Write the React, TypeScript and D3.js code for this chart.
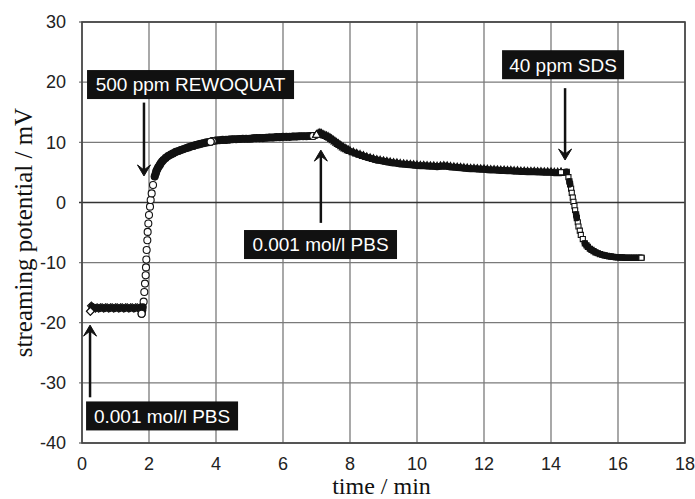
import React from 'react';
import * as d3 from 'd3';

// [time / min, streaming potential / mV]
const pbsStart: [number, number][] = [
  [0.25, -18.1], [0.28, -17.2], [0.3, -17.8], [0.35, -17.5], [0.4, -17.6], [0.45, -17.5],
  [0.5, -17.6], [0.55, -17.5], [0.6, -17.5], [0.65, -17.6], [0.7, -17.5], [0.75, -17.5],
  [0.8, -17.6], [0.85, -17.5], [0.9, -17.5], [0.95, -17.6], [1.0, -17.5], [1.05, -17.5],
  [1.1, -17.6], [1.15, -17.5], [1.2, -17.5], [1.25, -17.6], [1.3, -17.5], [1.35, -17.5],
  [1.4, -17.6], [1.45, -17.5], [1.5, -17.5], [1.55, -17.6], [1.6, -17.5], [1.65, -17.5],
  [1.7, -17.6], [1.75, -17.4], [1.78, -18.0],
];

const rewoquatPlateau: [number, number][] = [
  [3.9, 10.2], [4.0, 10.3], [4.1, 10.35], [4.2, 10.4], [4.3, 10.4], [4.4, 10.45], [4.5, 10.5],
  [4.6, 10.5], [4.7, 10.55], [4.8, 10.6], [4.9, 10.6], [5.0, 10.6], [5.1, 10.65], [5.2, 10.7],
  [5.3, 10.7], [5.4, 10.7], [5.5, 10.75], [5.6, 10.8], [5.7, 10.8], [5.8, 10.85], [5.9, 10.85],
  [6.0, 10.9], [6.1, 10.9], [6.2, 10.9], [6.3, 10.95], [6.4, 10.95], [6.5, 11.0], [6.6, 11.0],
  [6.7, 11.0], [6.8, 11.05], [6.9, 11.05],
];

const rewoquatRise: [number, number][] = [
  [1.78, -18.5], [1.8, -17.9], [1.81, -17.4], [1.84, -16.5], [1.86, -14.9], [1.88, -13.5],
  [1.9, -12.1], [1.91, -10.8], [1.92, -9.5], [1.93, -7.9], [1.95, -6.3], [1.96, -4.9],
  [1.98, -3.5], [2.0, -2.1], [2.03, -0.7], [2.05, 0.4], [2.08, 1.5], [2.12, 2.9], [2.17, 4.3],
  [2.2, 4.8], [2.22, 5.2], [2.25, 5.55], [2.28, 5.9], [2.32, 6.2], [2.35, 6.5], [2.39, 6.8],
  [2.43, 7.05], [2.5, 7.4], [2.57, 7.7], [2.65, 7.95], [2.72, 8.15], [2.8, 8.4], [2.88, 8.55],
  [2.95, 8.7], [3.02, 8.85], [3.1, 9.0], [3.18, 9.15], [3.25, 9.3], [3.33, 9.4], [3.4, 9.55],
  [3.48, 9.65], [3.55, 9.75], [3.62, 9.85], [3.7, 9.95], [3.77, 10.0], [3.84, 10.1],
];

const pbsRinse: [number, number][] = [
  [7.0, 11.2], [7.05, 11.4], [7.1, 11.5], [7.15, 11.4], [7.2, 11.2], [7.25, 11.1], [7.3, 11.0],
  [7.35, 10.85], [7.4, 10.7], [7.45, 10.5], [7.5, 10.3], [7.55, 10.1], [7.6, 9.9], [7.65, 9.7],
  [7.7, 9.5], [7.75, 9.3], [7.8, 9.1], [7.85, 8.95], [7.9, 8.8], [7.95, 8.65], [8.0, 8.5],
  [8.1, 8.3], [8.2, 8.1], [8.3, 7.9], [8.4, 7.7], [8.5, 7.5], [8.6, 7.35], [8.7, 7.2],
  [8.8, 7.05], [8.9, 6.95], [9.0, 6.85], [9.1, 6.75], [9.2, 6.65], [9.3, 6.55], [9.4, 6.5],
  [9.5, 6.4], [9.6, 6.35], [9.7, 6.3], [9.8, 6.25], [9.9, 6.2], [10.0, 6.15], [10.1, 6.1],
  [10.2, 6.1], [10.3, 6.05], [10.4, 6.0], [10.5, 6.0], [10.6, 5.95], [10.7, 6.0], [10.8, 6.05],
  [10.9, 6.0], [11.0, 5.9], [11.1, 5.85], [11.2, 5.8], [11.3, 5.75], [11.4, 5.7], [11.5, 5.65],
  [11.6, 5.6], [11.7, 5.6], [11.8, 5.55], [11.9, 5.5], [12.0, 5.5], [12.1, 5.45], [12.2, 5.4],
  [12.3, 5.4], [12.4, 5.35], [12.5, 5.3], [12.6, 5.3], [12.7, 5.25], [12.8, 5.25], [12.9, 5.2],
  [13.0, 5.2], [13.1, 5.15], [13.2, 5.15], [13.3, 5.1], [13.4, 5.1], [13.5, 5.1], [13.6, 5.05],
  [13.7, 5.05], [13.8, 5.0], [13.9, 5.0], [14.0, 5.0], [14.1, 4.95], [14.2, 4.95], [14.3, 4.95],
];

const sdsDrop: [number, number][] = [
  [14.3, 5.0], [14.38, 5.0], [14.47, 5.1], [14.52, 4.2], [14.55, 3.5], [14.57, 3.0], [14.6, 2.3],
  [14.62, 1.6], [14.65, 0.8], [14.67, 0.1], [14.7, -0.6], [14.72, -1.3], [14.75, -2.0],
  [14.77, -2.6], [14.8, -3.3], [14.82, -4.0], [14.86, -4.7], [14.89, -5.4], [14.95, -6.1],
  [15.01, -6.8], [15.06, -7.15], [15.1, -7.4], [15.16, -7.7], [15.21, -7.9], [15.27, -8.1],
  [15.33, -8.3], [15.4, -8.45], [15.46, -8.6], [15.53, -8.7], [15.6, -8.8], [15.67, -8.9],
  [15.73, -8.95], [15.8, -9.0], [15.86, -9.05], [15.93, -9.1], [16.0, -9.1], [16.07, -9.15],
  [16.13, -9.15], [16.2, -9.2], [16.26, -9.2], [16.33, -9.2], [16.4, -9.2], [16.47, -9.2],
  [16.55, -9.2], [16.62, -9.2], [16.7, -9.2],
];

const xTicks = [0, 2, 4, 6, 8, 10, 12, 14, 16, 18];
const yTicks = [-40, -30, -20, -10, 0, 10, 20, 30];

// label boxes and arrows, in data coordinates
const notes = [
  { text: '500 ppm REWOQUAT', bx: 3.24, by: 19.6, bw: 207, ax: 1.85, from: 16.6, to: 4.4 },
  { text: '0.001 mol/l PBS', bx: 2.39, by: -35.5, bw: 152, ax: 0.24, from: -32.4, to: -20.4 },
  { text: '0.001 mol/l PBS', bx: 7.12, by: -7.0, bw: 153, ax: 7.13, from: -3.4, to: 8.7 },
  { text: '40 ppm SDS', bx: 14.36, by: 22.9, bw: 122, ax: 14.42, from: 19.0, to: 7.05 },
];

const W = 695;
const H = 499;
const margin = { top: 22, right: 10, bottom: 56, left: 82 };

export default function App() {
  const x = d3.scaleLinear().domain([0, 18]).range([margin.left, W - margin.right]);
  const y = d3.scaleLinear().domain([-40, 30]).range([H - margin.bottom, margin.top]);

  const diamond = d3.symbol(d3.symbolSquare, 30)()!;
  const triangle = d3.symbol(d3.symbolTriangle, 26)()!;
  const square = d3.symbol(d3.symbolSquare, 26)()!;
  const font = "'Liberation Sans', Arial, sans-serif";
  const serif = "'Liberation Serif', 'Times New Roman', serif";
  const line = d3.line<[number, number]>().x(d => x(d[0])).y(d => y(d[1]));

  const mark = { fill: '#fff', stroke: '#111', strokeWidth: 1.1 };

  // solid band where the recorded points sit closer than a few pixels
  const band = (data: [number, number][]) => {
    let d = '';
    for (let i = 1; i < data.length; i++) {
      const dx = x(data[i][0]) - x(data[i - 1][0]);
      const dy = y(data[i][1]) - y(data[i - 1][1]);
      if (Math.hypot(dx, dy) < 4) d += line([data[i - 1], data[i]]);
    }
    return d;
  };

  const series = [
    { data: pbsStart, width: 6, draw: (d: [number, number], k: string) => (
      <path key={k} d={diamond} transform={`translate(${x(d[0])},${y(d[1])}) rotate(45)`} {...mark} />) },
    { data: rewoquatPlateau, width: 7.5, draw: (d: [number, number], k: string) => (
      <circle key={k} cx={x(d[0])} cy={y(d[1])} r={3.5} {...mark} />) },
    { data: rewoquatRise, width: 7.5, draw: (d: [number, number], k: string) => (
      <circle key={k} cx={x(d[0])} cy={y(d[1])} r={3.5} {...mark} />) },
    { data: pbsRinse, width: 7, draw: (d: [number, number], k: string) => (
      <path key={k} d={triangle} transform={`translate(${x(d[0])},${y(d[1])})`} {...mark} />) },
    { data: sdsDrop, width: 6.5, draw: (d: [number, number], k: string) => (
      <path key={k} d={square} transform={`translate(${x(d[0])},${y(d[1])})`} {...mark} />) },
  ];

  return (
    <svg width={W} height={H} style={{ position: 'absolute', left: 0, top: 0, background: '#fff' }}>
      {/* grid */}
      {xTicks.map(t => (
        <line key={'gx' + t} x1={x(t)} x2={x(t)} y1={y(-40)} y2={y(30)} stroke="#7a7a7a" strokeWidth={1.3} />
      ))}
      {yTicks.map(t => (
        <line key={'gy' + t} x1={x(0) - 3} x2={x(18)} y1={y(t)} y2={y(t)}
          stroke={t === 0 ? '#333' : '#7a7a7a'} strokeWidth={t === 0 ? 1.6 : 1.3} />
      ))}
      <rect x={x(0)} y={y(30)} width={x(18) - x(0)} height={y(-40) - y(30)} fill="none" stroke="#444" strokeWidth={1.6} />

      {/* tick labels */}
      {yTicks.map(t => (
        <text key={'ty' + t} x={66} y={y(t)} dy="0.35em" textAnchor="end" fontFamily={font} fontSize={18} fill="#222">{t}</text>
      ))}
      {xTicks.map(t => (
        <text key={'tx' + t} x={x(t)} y={470} textAnchor="middle" fontFamily={font} fontSize={18} fill="#222">{t}</text>
      ))}

      {/* axis titles */}
      <text transform="translate(32,232.5) rotate(-90)" textAnchor="middle" fontFamily={serif} fontSize={25} fill="#111">streaming potential / mV</text>
      <text x={381.5} y={494} textAnchor="middle" fontFamily={serif} fontSize={24} fill="#111">time / min</text>

      {/* series: markers, dense band, then end markers on top */}
      {series.map((s, si) => (
        <g key={'s' + si}>
          {s.data.map((d, i) => s.draw(d, 'm' + i))}
          <path d={band(s.data)} fill="none" stroke="#111" strokeWidth={s.width} strokeLinecap="round" />
          {s.draw(s.data[0], 'first')}
          {s.draw(s.data[s.data.length - 1], 'last')}
        </g>
      ))}

      {/* annotations */}
      {notes.map((n, i) => {
        const ax = x(n.ax);
        const y0 = y(n.from);
        const y1 = y(n.to);
        const dir = y1 > y0 ? 1 : -1;
        return (
          <g key={'n' + i}>
            <rect x={x(n.bx) - n.bw / 2} y={y(n.by) - 14.5} width={n.bw} height={29} fill="#111" />
            <text x={x(n.bx)} y={y(n.by)} dy="0.36em" textAnchor="middle" fontFamily={font} fontSize={19} fill="#fff">{n.text}</text>
            <line x1={ax} x2={ax} y1={y0} y2={y1 - dir * 6} stroke="#111" strokeWidth={2.5} />
            <path d={`M${ax - 6.5},${y1 - dir * 11} L${ax},${y1} L${ax + 6.5},${y1 - dir * 11} L${ax},${y1 - dir * 6} Z`} fill="#111" stroke="#111" strokeWidth={1} strokeLinejoin="round" />
          </g>
        );
      })}
    </svg>
  );
}
